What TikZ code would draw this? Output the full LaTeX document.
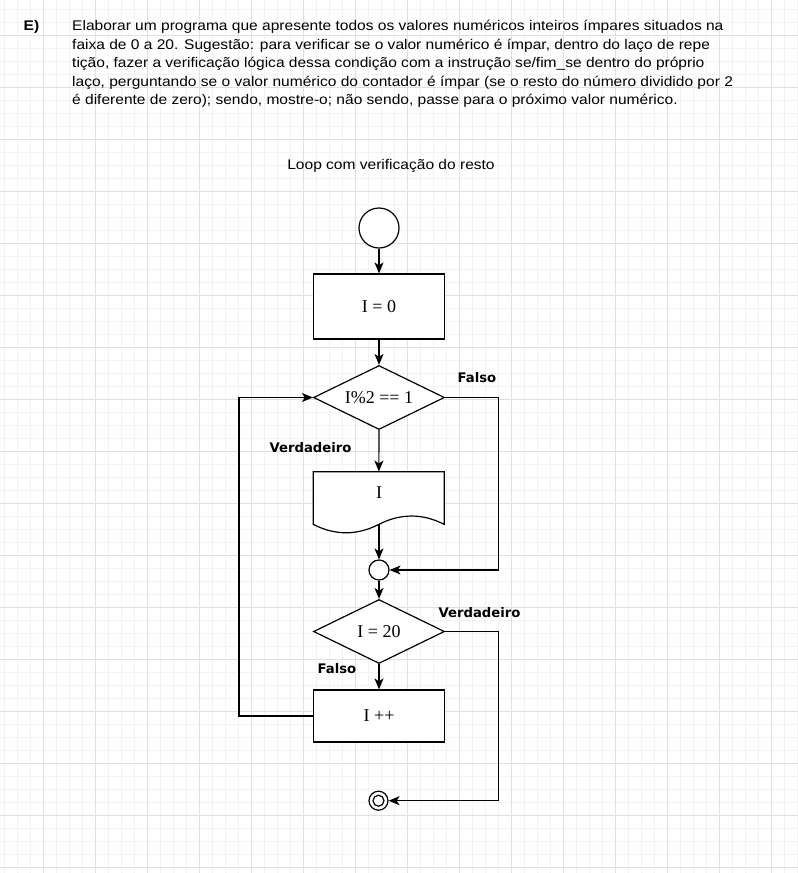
\documentclass[tikz,border=0pt]{standalone}
\usepackage{fontspec}
\setmainfont{Liberation Sans}
\newfontfamily\parafont[FakeStretch=1.11]{Liberation Sans}
\newfontfamily\nodeserif{Liberation Serif}
\newfontfamily\lblfont{DejaVu Sans}
\usetikzlibrary{arrows.meta,shapes.geometric}
\definecolor{gridminor}{HTML}{F3F3F3}
\definecolor{gridmajor}{HTML}{E0E0E0}
\tikzset{
  lw/.style={line width=1.2pt},
  procbox/.style={draw, lw, fill=white, minimum width=131pt, inner sep=0pt, font=\nodeserif\fontsize{18}{20}\selectfont},
  decis/.style={diamond, draw, lw, fill=white, minimum width=131pt, minimum height=64pt, inner sep=0pt, shape aspect=2, font=\nodeserif\fontsize{18}{20}\selectfont},
  conn/.style={lw, -{Stealth[length=11pt,width=9pt,inset=3pt]}},
  lbl/.style={font=\lblfont\bfseries\fontsize{13.2}{15}\selectfont, inner sep=0pt},
  para/.style={anchor=base west, inner sep=0pt, font=\parafont\fontsize{14}{16}\selectfont},
}
\begin{document}
\begin{tikzpicture}[x=1pt,y=-1pt]
\useasboundingbox (0,0) rectangle (798,873);
\fill[white] (0,0) rectangle (798,873);
% grid
\foreach \k in {-3,...,58} {\draw[gridminor, line width=0.8pt] (43.5+13*\k,0) -- (43.5+13*\k,873);}
\foreach \k in {-2,...,64} {\draw[gridminor, line width=0.8pt] (0,35.5+13*\k) -- (798,35.5+13*\k);}
\foreach \k in {0,...,14} {\draw[gridmajor, line width=0.9pt] (43.5+52*\k,0) -- (43.5+52*\k,873);}
\foreach \k in {0,...,16} {\draw[gridmajor, line width=0.9pt] (0,35.5+52*\k) -- (798,35.5+52*\k);}

% heading text
\node[para, font=\parafont\bfseries\fontsize{14}{16}\selectfont] (ehead) at (23.5,30.7) {E)};
\node[para] (l1) at (72,30.7) {Elaborar um programa que apresente todos os valores numéricos inteiros ímpares situados na};
\node[para] (l2) at (72,49.2) {faixa de 0 a 20. Sugestão: para verificar se o valor numérico é ímpar, dentro do laço de repe};
\node[para] (l3) at (72,67.6) {tição, fazer a verificação lógica dessa condição com a instrução se/fim\_se dentro do próprio};
\node[para] (l4) at (72,86) {laço, perguntando se o valor numérico do contador é ímpar (se o resto do número dividido por 2};
\node[para] (l5) at (72,104.4) {é diferente de zero); sendo, mostre-o; não sendo, passe para o próximo valor numérico.};

\node[font=\parafont\fontsize{14}{16}\selectfont, inner sep=0pt] (title) at (391,166) {Loop com verificação do resto};

% flowchart nodes
\node[circle, draw, lw, fill=white, minimum size=40pt, inner sep=0pt] (start) at (379,228) {};
\node[procbox, minimum height=65pt] (init) at (379,306.5) {I = 0};
\node[decis] (d1) at (379,397.5) {I\%2 == 1};
\node[minimum width=131pt, minimum height=62pt, inner sep=0pt] (doc) at (378.8,502.7) {};
\filldraw[lw, fill=white] (313.3,471.7) -- (444.3,471.7) -- (444.3,524.4)
   .. controls (422.47,513.24) and (400.63,513.24) .. (378.8,524.4)
   .. controls (356.97,535.56) and (335.13,535.56) .. (313.3,524.4) -- cycle;
\node[font=\nodeserif\fontsize{18}{20}\selectfont, inner sep=0pt] (doctext) at (379,493) {I};
\coordinate (docb) at (379,524.4);
\node[circle, draw, lw, fill=white, minimum size=20pt, inner sep=0pt] (j) at (379,570) {};
\node[decis] (d2) at (379,631.5) {I = 20};
\node[procbox, minimum height=52pt] (inc) at (379,716) {I ++};
\node[circle, draw, lw, fill=white, minimum size=19pt, inner sep=0pt] (end) at (378.5,800.7) {};
\draw[lw] (end.center) circle (5.5pt);

\coordinate (rr) at (498.3,0);
\coordinate (ll) at (239,0);

% connectors
\draw[conn] (start) -- (init);
\draw[conn] (init) -- (d1);
\draw[conn] (d1) -- (doc);
\draw[conn] (docb) -- (j);
\draw[conn] (j) -- (d2);
\draw[conn] (d2) -- (inc);
\draw[conn] (d1.east) -- (d1.east -| rr) |- (j.east);
\draw[conn] (inc.west) -- (inc.west -| ll) |- (d1.west);
\draw[conn] (d2.east) -- (d2.east -| rr) |- (end.east);

% labels
\node[lbl] (f1) at (477,378) {Falso};
\node[lbl] (v1) at (310.5,448) {Verdadeiro};
\node[lbl] (v2) at (479.5,613) {Verdadeiro};
\node[lbl] (f2) at (337,669) {Falso};
\end{tikzpicture}
\end{document}
